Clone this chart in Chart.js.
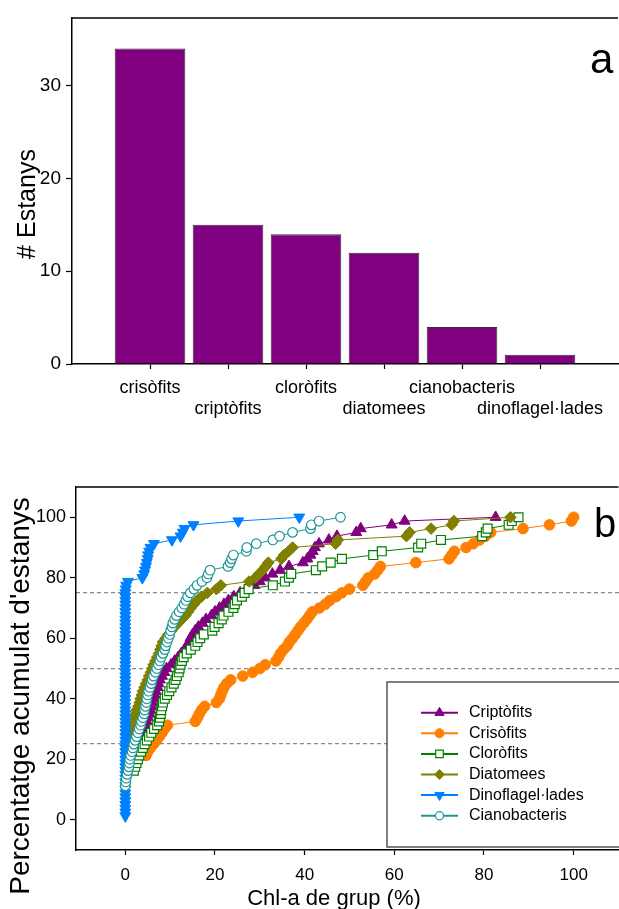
<!DOCTYPE html>
<html>
<head>
<meta charset="utf-8">
<script src="https://cdn.jsdelivr.net/npm/chart.js@4.4.1/dist/chart.umd.min.js"></script>
<style>
  html, body { margin: 0; padding: 0; background: #fff; overflow: hidden; }
  /* both panels are a bit wider than the window: the right edge of the frames is cut off like in the figure */
  #panelA { position: absolute; left: 0; top: 0; width: 626px; height: 430px; }
  #panelB { position: absolute; left: 0; top: 430px; width: 626px; height: 479px; }
</style>
</head>
<body>
<div id="panelA"><canvas id="chartA"></canvas></div>
<div id="panelB"><canvas id="chartB"></canvas></div>
<script>
// ---- panel a: number of lakes where each group dominates ----
const groups = ['crisòfits', 'criptòfits', 'cloròfits', 'diatomees', 'cianobacteris', 'dinoflagel·lades']
const lakeCounts = [34, 15, 14, 12, 4, 1]
const countTicks = [0, 10, 20, 30]

// ---- panel b: cumulative % of lakes vs group Chl-a (%) ----
const seriesNames = ['Criptòfits', 'Crisòfits', 'Cloròfits', 'Diatomees', 'Dinoflagel·lades', 'Cianobacteris']

const criptoX = [3.3, 3.6, 3.9, 4.2, 4.5, 4.8, 5.1, 5.4, 5.6, 5.8,
  6.0, 6.3, 6.6, 6.8, 7.2, 7.4, 7.7, 8.2, 8.7, 9.2,
  10.2, 11.0, 11.8, 12.5, 13.2, 13.8, 14.2, 14.5, 15.0, 15.6,
  16.3, 17.2, 18.0, 19.2, 20.0, 21.0, 22.0, 23.0, 24.2, 25.6,
  27.0, 28.8, 30.0, 31.2, 32.8, 34.5, 36.5, 39.6, 40.6, 41.3,
  41.8, 42.3, 43.2, 45.4, 47.2, 51.5, 52.5, 59.4, 62.3, 82.6]
const criptoY = [26.25, 27.5, 28.75, 30, 31.25, 32.5, 33.75, 35, 36.25, 37.5,
  38.75, 40, 41.25, 42.5, 43.75, 45, 46.25, 47.5, 48.75, 50,
  51.25, 52.5, 53.75, 55, 56.25, 57.5, 58.75, 60, 61.25, 62.5,
  63.75, 65, 66.25, 67.5, 68.75, 70, 71.25, 72.5, 73.75, 75,
  76.25, 77.5, 78.75, 80, 81.25, 82.5, 83.75, 85, 86.25, 87.5,
  88.75, 90, 91.25, 92.5, 93.75, 95, 96.25, 97.5, 98.75, 100]

const crisoX = [4.6, 5.0, 5.6, 6.3, 7.0, 7.6, 8.2, 8.7, 9.4, 15.6,
  16.1, 16.5, 17.0, 17.7, 20.3, 21.0, 21.3, 21.6, 22.0, 22.6,
  23.5, 26.2, 28.4, 30.0, 31.2, 33.6, 34.2, 34.6, 35.3, 36.1,
  36.6, 37.3, 37.9, 38.5, 39.1, 39.8, 40.5, 41.1, 41.7, 43.3,
  44.6, 45.6, 47.0, 48.3, 50.0, 53.0, 53.6, 54.2, 55.6, 56.3,
  56.9, 64.8, 72.2, 72.8, 73.4, 76.0, 77.6, 79.0, 80.3, 81.5,
  88.7, 94.6, 99.5, 100.0]
const crisoY = [21.25, 22.5, 23.75, 25, 26.25, 27.5, 28.75, 30, 31.25, 32.5,
  33.75, 35, 36.25, 37.5, 38.75, 40, 41.25, 42.5, 43.75, 45,
  46.25, 47.5, 48.75, 50, 51.25, 52.5, 53.75, 55, 56.25, 57.5,
  58.75, 60, 61.25, 62.5, 63.75, 65, 66.25, 67.5, 68.75, 70,
  71.25, 72.5, 73.75, 75, 76.25, 77.5, 78.75, 80, 81.25, 82.5,
  83.75, 85, 86.25, 87.5, 88.75, 90, 91.25, 92.5, 93.75, 95,
  96.25, 97.5, 98.75, 100]

const cloroX = [1.9, 2.2, 2.5, 2.8, 3.1, 3.5, 3.9, 4.3, 4.8, 5.3,
  5.8, 6.4, 7.1, 7.5, 7.7, 7.9, 8.0, 8.2, 8.4, 8.8,
  9.3, 9.8, 10.3, 10.8, 11.2, 11.5, 11.9, 12.1, 12.3, 12.6,
  13.0, 13.7, 14.6, 15.6, 16.1, 16.7, 17.5, 19.4, 19.9, 20.8,
  21.5, 21.9, 23.0, 24.1, 24.4, 24.9, 26.0, 26.6, 27.5, 32.9,
  35.6, 36.5, 37.0, 42.5, 43.9, 45.8, 48.3, 55.3, 57.2, 65.3,
  66.0, 70.4, 79.6, 80.4, 80.8, 85.5, 86.2, 87.7]
const cloroY = [16.25, 17.5, 18.75, 20, 21.25, 22.5, 23.75, 25, 26.25, 27.5,
  28.75, 30, 31.25, 32.5, 33.75, 35, 36.25, 37.5, 38.75, 40,
  41.25, 42.5, 43.75, 45, 46.25, 47.5, 48.75, 50, 51.25, 52.5,
  53.75, 55, 56.25, 57.5, 58.75, 60, 61.25, 62.5, 63.75, 65,
  66.25, 67.5, 68.75, 70, 71.25, 72.5, 73.75, 75, 76.25, 77.5,
  78.75, 80, 81.25, 82.5, 83.75, 85, 86.25, 87.5, 88.75, 90,
  91.25, 92.5, 93.75, 95, 96.25, 97.5, 98.75, 100]

const diatoX = [1.2, 1.4, 1.6, 1.9, 2.1, 2.3, 2.5, 2.9, 3.2, 3.4,
  3.7, 3.9, 4.3, 4.6, 5.0, 5.3, 5.7, 6.0, 6.3, 6.7,
  7.1, 7.5, 7.8, 8.1, 8.4, 9.0, 9.6, 10.3, 11.0, 11.8,
  12.6, 13.4, 14.0, 14.6, 15.3, 16.0, 17.0, 18.3, 20.3, 21.3,
  27.6, 29.0, 29.8, 30.6, 31.3, 31.9, 34.8, 35.4, 36.4, 37.3,
  46.9, 47.4, 62.7, 63.4, 68.2, 72.8, 73.3, 85.9]
const diatoY = [28.75, 30, 31.25, 32.5, 33.75, 35, 36.25, 37.5, 38.75, 40,
  41.25, 42.5, 43.75, 45, 46.25, 47.5, 48.75, 50, 51.25, 52.5,
  53.75, 55, 56.25, 57.5, 58.75, 60, 61.25, 62.5, 63.75, 65,
  66.25, 67.5, 68.75, 70, 71.25, 72.5, 73.75, 75, 76.25, 77.5,
  78.75, 80, 81.25, 82.5, 83.75, 85, 86.25, 87.5, 88.75, 90,
  91.25, 92.5, 93.75, 95, 96.25, 97.5, 98.75, 100]

const dinoX = [0, 0, 0, 0, 0, 0, 0, 0, 0, 0,
  0, 0, 0, 0, 0, 0, 0, 0, 0, 0,
  0, 0, 0, 0, 0, 0, 0, 0, 0, 0,
  0, 0, 0, 0, 0, 0, 0, 0, 0, 0,
  0, 0, 0, 0, 0, 0, 0, 0, 0, 0,
  0, 0, 0, 0, 0, 0, 0, 0, 0, 0,
  0.1, 0.2, 0.6, 3.8, 4.2, 4.4, 4.6, 4.8, 5.0, 5.1,
  5.3, 5.6, 6.4, 10.4, 12.3, 12.8, 13.2, 15.2, 25.2, 38.8]
const dinoY = [1.25, 2.5, 3.75, 5, 6.25, 7.5, 8.75, 10, 11.25, 12.5,
  13.75, 15, 16.25, 17.5, 18.75, 20, 21.25, 22.5, 23.75, 25,
  26.25, 27.5, 28.75, 30, 31.25, 32.5, 33.75, 35, 36.25, 37.5,
  38.75, 40, 41.25, 42.5, 43.75, 45, 46.25, 47.5, 48.75, 50,
  51.25, 52.5, 53.75, 55, 56.25, 57.5, 58.75, 60, 61.25, 62.5,
  63.75, 65, 66.25, 67.5, 68.75, 70, 71.25, 72.5, 73.75, 75,
  76.25, 77.5, 78.75, 80, 81.25, 82.5, 83.75, 85, 86.25, 87.5,
  88.75, 90, 91.25, 92.5, 93.75, 95, 96.25, 97.5, 98.75, 100]

const cianoX = [0.0, 0.1, 0.2, 0.4, 0.6, 0.8, 0.9, 1.0, 1.2, 1.5,
  1.7, 1.9, 2.2, 2.5, 2.8, 3.1, 3.4, 3.6, 3.9, 4.2,
  4.3, 4.5, 4.7, 4.8, 5.0, 5.2, 5.5, 5.8, 6.0, 6.3,
  6.7, 7.0, 7.4, 7.7, 8.0, 8.4, 8.8, 9.0, 9.3, 9.6,
  9.9, 10.1, 10.4, 10.6, 11.0, 11.4, 12.0, 12.6, 13.1, 13.5,
  13.9, 14.5, 15.3, 16.0, 17.1, 18.2, 18.5, 18.9, 22.9, 23.4,
  23.7, 24.1, 27.0, 27.1, 29.2, 32.9, 34.4, 37.3, 41.3, 41.5,
  43.2, 48.0]
const cianoY = [11.25, 12.5, 13.75, 15, 16.25, 17.5, 18.75, 20, 21.25, 22.5,
  23.75, 25, 26.25, 27.5, 28.75, 30, 31.25, 32.5, 33.75, 35,
  36.25, 37.5, 38.75, 40, 41.25, 42.5, 43.75, 45, 46.25, 47.5,
  48.75, 50, 51.25, 52.5, 53.75, 55, 56.25, 57.5, 58.75, 60,
  61.25, 62.5, 63.75, 65, 66.25, 67.5, 68.75, 70, 71.25, 72.5,
  73.75, 75, 76.25, 77.5, 78.75, 80, 81.25, 82.5, 83.75, 85,
  86.25, 87.5, 88.75, 90, 91.25, 92.5, 93.75, 95, 96.25, 97.5,
  98.75, 100]

const pctTicks = [0, 20, 40, 60, 80, 100]
const chlTicks = [0, 20, 40, 60, 80, 100]
const refLevels = [25, 50, 75] // dashed quartile lines

const FONT = "'Liberation Sans', Arial, sans-serif"
Chart.defaults.font.family = FONT
Chart.defaults.color = '#000'

const toPoints = (xs, ys) => xs.map((x, i) => ({ x: x, y: ys[i] }))

// extra drawing: top edge of the frame, panel letter, axis titles, boxed legend
const extras = {
    id: 'extras',
    afterDraw(chart, args, opts) {
        const ctx = chart.ctx
        const a = chart.chartArea
        ctx.save()
        ctx.strokeStyle = '#000'
        ctx.lineWidth = 1.5
        ctx.beginPath()
        ctx.moveTo(a.left, a.top)
        ctx.lineTo(a.right, a.top)
        ctx.stroke()

        ctx.fillStyle = '#000'
        if (opts.letter) {
            ctx.font = opts.letter.size + 'px ' + FONT
            ctx.textAlign = 'left'
            ctx.textBaseline = 'alphabetic'
            ctx.fillText(opts.letter.text, opts.letter.x, opts.letter.y)
        }
        (opts.titles || []).forEach(t => {
            ctx.save()
            ctx.font = t.size + 'px ' + FONT
            ctx.textAlign = 'center'
            ctx.textBaseline = t.baseline || 'middle'
            ctx.translate(t.x, t.y)
            if (t.vertical) ctx.rotate(-Math.PI / 2)
            ctx.fillText(t.text, 0, 0)
            ctx.restore()
        })

        const L = opts.legend
        if (L) {
            ctx.fillStyle = '#fff'
            ctx.fillRect(L.x, L.y, L.w, L.h)
            ctx.strokeStyle = '#555'
            ctx.lineWidth = 1.5
            ctx.strokeRect(L.x, L.y, L.w, L.h)
            chart.data.datasets.forEach((ds, i) => {
                const y = L.row0 + i * L.rowGap
                ctx.strokeStyle = ds.borderColor
                ctx.lineWidth = 2
                ctx.beginPath()
                ctx.moveTo(L.line0, y)
                ctx.lineTo(L.line1, y)
                ctx.stroke()
                ctx.fillStyle = ds.pointBackgroundColor
                ctx.strokeStyle = ds.pointBorderColor
                ctx.lineWidth = ds.pointBorderWidth
                Chart.helpers.drawPoint(ctx, {
                    pointStyle: ds.pointStyle,
                    rotation: ds.pointRotation || 0,
                    radius: ds.pointRadius * 0.85,
                    borderWidth: ds.pointBorderWidth
                }, (L.line0 + L.line1) / 2, y)
                ctx.fillStyle = '#000'
                ctx.font = L.size + 'px ' + FONT
                ctx.textAlign = 'left'
                ctx.textBaseline = 'middle'
                ctx.fillText(ds.label, L.textX, y)
            })
        }
        ctx.restore()
    }
}

// ---------- panel a ----------
const barLabels = [''].concat(groups.map((g, i) => i % 2 === 0 ? [g, ''] : ['', g]), [''])
const barValues = [null].concat(lakeCounts, [null])

new Chart(document.getElementById('chartA'), {
    type: 'bar',
    data: {
        labels: barLabels,
        datasets: [{
            data: barValues,
            backgroundColor: '#800080',
            borderColor: '#333',
            borderWidth: 1,
            categoryPercentage: 1,
            barPercentage: 0.905
        }]
    },
    plugins: [extras],
    options: {
        responsive: true,
        maintainAspectRatio: false,
        animation: false,
        layout: { padding: { top: 18, right: 2, left: 0, bottom: 0 } },
        plugins: {
            legend: { display: false },
            tooltip: { enabled: false },
            extras: {
                letter: { text: 'a', x: 590, y: 73, size: 42 },
                titles: [{ text: '# Estanys', x: 28, y: 204, size: 25, vertical: true }]
            }
        },
        scales: {
            x: {
                type: 'category',
                offset: false,
                grid: {
                    offset: false,
                    drawOnChartArea: false,
                    tickLength: 5,
                    tickWidth: 1.2,
                    tickColor: c => (c.index === 0 || c.index === barLabels.length - 1) ? 'rgba(0,0,0,0)' : '#000'
                },
                border: { color: '#000', width: 1.5 },
                ticks: { autoSkip: false, maxRotation: 0, padding: 8, font: { size: 18 } },
                afterFit: s => { s.height = 66 }
            },
            y: {
                min: 0,
                max: 37.3,
                afterBuildTicks: s => { s.ticks = countTicks.map(v => ({ value: v })) },
                ticks: { padding: 5, font: { size: 19 } },
                grid: { drawOnChartArea: false, tickLength: 6, tickWidth: 1.2, tickColor: '#000' },
                border: { color: '#000', width: 1.5 },
                afterFit: s => { s.width = 72 }
            }
        }
    }
})

// ---------- panel b ----------
const styleB = [
    { color: '#800080', fill: '#800080', pointStyle: 'triangle', radius: 6.3, rotation: 0, bw: 1 },
    { color: '#ff7f00', fill: '#ff7f00', pointStyle: 'circle', radius: 5.3, rotation: 0, bw: 1 },
    { color: '#008000', fill: '#ffffff', pointStyle: 'rect', radius: 6.3, rotation: 0, bw: 1.2 },
    { color: '#808000', fill: '#808000', pointStyle: 'rectRot', radius: 5.8, rotation: 0, bw: 1 },
    { color: '#0080ff', fill: '#0080ff', pointStyle: 'triangle', radius: 6.3, rotation: 180, bw: 1 },
    { color: '#1f9696', fill: '#ffffff', pointStyle: 'circle', radius: 4.8, rotation: 0, bw: 1.2 }
]
const seriesPoints = [
    toPoints(criptoX, criptoY),
    toPoints(crisoX, crisoY),
    toPoints(cloroX, cloroY),
    toPoints(diatoX, diatoY),
    toPoints(dinoX, dinoY),
    toPoints(cianoX, cianoY)
]

new Chart(document.getElementById('chartB'), {
    type: 'scatter',
    data: {
        datasets: seriesNames.map((name, i) => ({
            label: name,
            data: seriesPoints[i],
            showLine: true,
            borderColor: styleB[i].color,
            borderWidth: 1,
            pointStyle: styleB[i].pointStyle,
            pointRotation: styleB[i].rotation,
            pointRadius: styleB[i].radius,
            pointBackgroundColor: styleB[i].fill,
            pointBorderColor: styleB[i].color,
            pointBorderWidth: styleB[i].bw,
            // later series sit on top, as in the figure
            order: seriesNames.length - i
        }))
    },
    plugins: [extras],
    options: {
        responsive: true,
        maintainAspectRatio: false,
        animation: false,
        layout: { padding: { top: 57, right: 3, left: 0, bottom: 0 } },
        plugins: {
            legend: { display: false },
            tooltip: { enabled: false },
            extras: {
                letter: { text: 'b', x: 594, y: 107, size: 40 },
                titles: [
                    { text: "Percentatge acumulat d'estanys", x: 21, y: 266, size: 28, vertical: true },
                    { text: 'Chl-a de grup (%)', x: 334, y: 475, size: 22, baseline: 'alphabetic' }
                ],
                legend: { x: 387, y: 252, w: 300, h: 165, row0: 282.7, rowGap: 20.6, line0: 421, line1: 458, textX: 469, size: 16 }
            }
        },
        scales: {
            x: {
                type: 'linear',
                min: -11,
                max: 110,
                afterBuildTicks: s => { s.ticks = chlTicks.map(v => ({ value: v })) },
                ticks: { padding: 10, font: { size: 17 } },
                grid: { drawOnChartArea: false, tickLength: 5, tickWidth: 1.2, tickColor: '#000' },
                border: { color: '#000', width: 1.5 },
                afterFit: s => { s.height = 59 }
            },
            y: {
                min: -10,
                max: 110,
                afterBuildTicks: s => { s.ticks = pctTicks.map(v => ({ value: v })) },
                ticks: { padding: 4, font: { size: 18 } },
                grid: { drawOnChartArea: false, tickLength: 6, tickWidth: 1.2, tickColor: '#000' },
                border: { color: '#000', width: 1.5 },
                afterFit: s => { s.width = 76 }
            },
            yRef: {
                position: 'right',
                min: -10,
                max: 110,
                afterBuildTicks: s => { s.ticks = refLevels.map(v => ({ value: v })) },
                ticks: { display: false },
                grid: { drawOnChartArea: true, drawTicks: false, color: '#8a8a8a', lineWidth: 1.3 },
                border: { display: false, dash: [4, 3] },
                afterFit: s => { s.width = 0 }
            }
        }
    }
})
</script>
</body>
</html>
